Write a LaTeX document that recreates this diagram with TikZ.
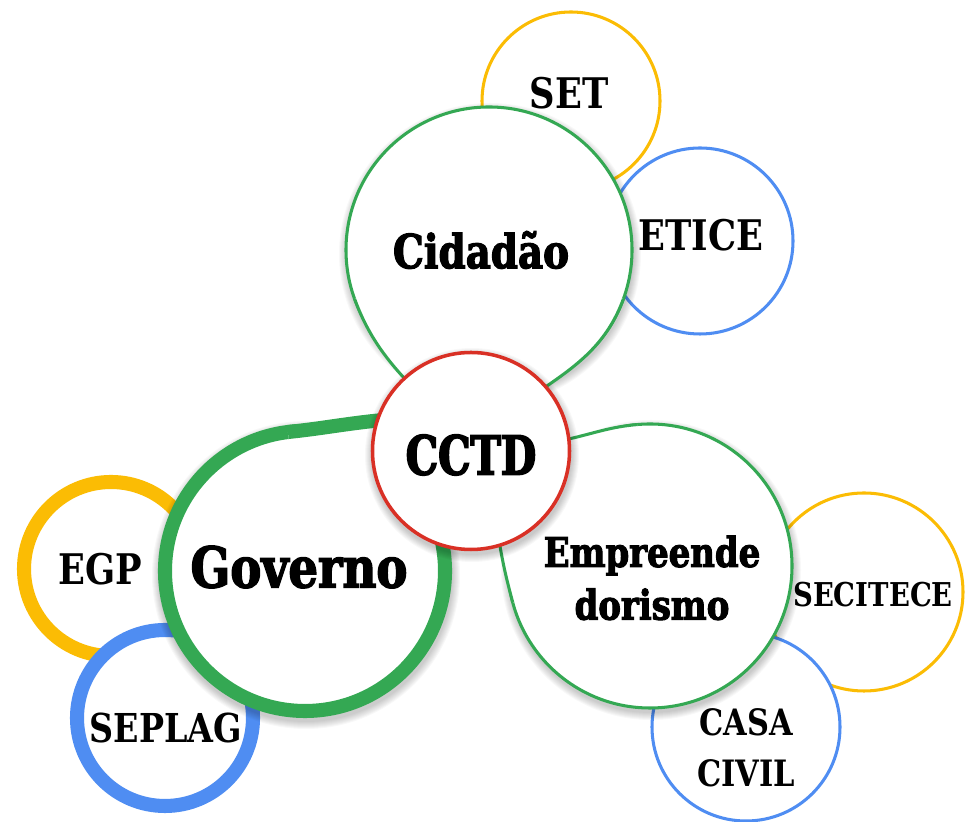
\documentclass[tikz,border=0pt]{standalone}
\usepackage{fontspec}
\setmainfont{DejaVu Serif Condensed}[FakeStretch=0.93]
\newfontfamily\heavyfont{DejaVu Serif Condensed Bold}[FakeBold=2.5, FakeStretch=0.92]
\newfontfamily\cctdfont{DejaVu Serif Condensed Bold}[FakeBold=3, FakeStretch=0.84]
\usepackage{tikz}
\definecolor{gGreen}{HTML}{34A853}
\definecolor{gRed}{HTML}{D93025}
\definecolor{gYellow}{HTML}{FBBC04}
\definecolor{gBlue}{HTML}{4F8DF2}
\pgfdeclarelayer{satlayer}
\pgfdeclarelayer{gshade}
\pgfdeclarelayer{bloblayer}
\pgfdeclarelayer{cshade}
\pgfsetlayers{satlayer,gshade,bloblayer,cshade,main}
\tikzset{
  bubble/.style={circle, draw, fill=white, inner sep=0pt, outer sep=0pt, line width=2.6pt},
  thickbubble/.style={bubble, line width=12pt},
  softshade/.style={black, opacity=0.028},
  satlabel/.style={font=\bfseries\fontsize{36}{40}\selectfont, align=center},
  mainlabel/.style={font=\heavyfont\fontsize{40}{45}\selectfont, align=center},
  neck/.style={draw=gGreen, line width=2.6pt, line join=round},
}

\begin{document}
\begin{tikzpicture}[x=0.03cm, y=0.03cm]
  \useasboundingbox (0,0) rectangle (971,822);

  % centre
  \node[bubble, draw=gRed, line width=3pt, minimum size=5.91cm] (cctd) at (471,371) {};

  % satellites
  \begin{pgfonlayer}{satlayer}
    \node[bubble, draw=gYellow, minimum size=5.34cm] (set) at (571,721) {};
    \node[bubble, draw=gBlue, minimum size=5.58cm] (etice) at (700,581) {};
    \node[thickbubble, draw=gYellow, minimum size=5.22cm] (egp) at (111,253) {};
    \node[thickbubble, draw=gBlue, minimum size=5.28cm] (seplag) at (165,104) {};
    \node[bubble, draw=gYellow, minimum size=5.94cm] (secitece) at (864,230) {};
    \node[bubble, draw=gBlue, minimum size=5.64cm] (casa) at (746,95) {};
  \end{pgfonlayer}

  % green bubbles with their necks
  \begin{pgfonlayer}{bloblayer}
    \node[bubble, draw=gGreen, minimum size=8.58cm] (cid) at (489,572) {};
    \fill[white] (cid.center) -- (cid.200) to[out=290, in=128] (cctd.center)
      to[out=52, in=250] (cid.340) -- cycle;
    \draw[neck] (cid.200) to[out=290, in=128] (cctd.center)
      to[out=52, in=250] (cid.340);

    \node[thickbubble, draw=gGreen, minimum size=8.4cm] (gov) at (305,251) {};
    \fill[white] (gov.center) -- (gov.97) to[out=6, in=186] (cctd.162)
      -- (cctd.center) -- (gov.15) -- cycle;
    \draw[neck, line width=12pt] (gov.97) to[out=6, in=186] (cctd.162) -- ++(30,3);

    \node[bubble, draw=gGreen, minimum size=8.52cm] (emp) at (650,256) {};
    \fill[white] (emp.center) -- (emp.95) to[out=185, in=13] (cctd.7)
      -- (cctd.center) -- (cctd.287) to[out=280, in=105] (emp.195) -- cycle;
    \draw[neck] (emp.95) to[out=185, in=13] (cctd.7) -- ++(-30,-7);
    \draw[neck] (emp.195) to[out=105, in=280] (cctd.287) -- ++(-5,30);
  \end{pgfonlayer}

  % soft shadows
  \begin{pgfonlayer}{gshade}
    \foreach \k in {0,...,7} {
      \fill[softshade] (cid.center) ++(1,-4) circle[radius=144+\k];
      \fill[softshade] (gov.center) ++(1,-4) circle[radius=147+\k];
      \fill[softshade] (emp.center) ++(1,-4) circle[radius=143+\k];
    }
  \end{pgfonlayer}
  \begin{pgfonlayer}{cshade}
    \foreach \k in {0,...,7}
      \fill[softshade] (cctd.center) ++(1,-4) circle[radius=100+\k];
  \end{pgfonlayer}

  % labels
  \node[mainlabel, font=\cctdfont\fontsize{46}{50}\selectfont] (cctdlbl) at (471,367) {CCTD};
  \node[mainlabel] (cidlbl) at (481,572) {Cidadão};
  \node[mainlabel, font=\heavyfont\fontsize{48}{50}\selectfont] (govlbl) at (299,255) {Governo};
  \node[mainlabel, font=\heavyfont\fontsize{35}{45}\selectfont] (emplbl) at (652,244) {Empreende\\dorismo};
  \node[satlabel] (setlbl) at (569,729) {SET};
  \node[satlabel] (eticelbl) at (701,587) {ETICE};
  \node[satlabel] (egplbl) at (100,253) {EGP};
  \node[satlabel, font=\bfseries\fontsize{34}{40}\selectfont] (seplaglbl) at (166,94) {SEPLAG};
  \node[satlabel, font=\bfseries\fontsize{28}{34}\selectfont] (secitecelbl) at (873,227) {SECITECE};
  \node[satlabel, font=\bfseries\fontsize{31}{43.5}\selectfont] (casalbl) at (746,74) {CASA\\CIVIL};
\end{tikzpicture}
\end{document}
